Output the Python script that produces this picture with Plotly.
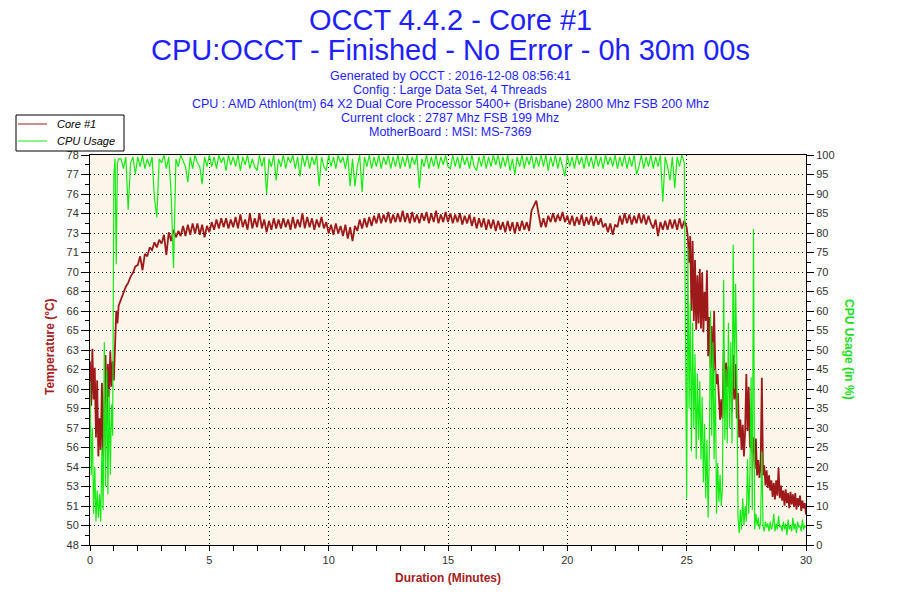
import numpy as np
import plotly.graph_objects as go

# ---------------- text ----------------
TITLE_1 = "OCCT 4.4.2 - Core #1"
TITLE_2 = "CPU:OCCT - Finished - No Error - 0h 30m 00s"
INFO_LINES = [
    "Generated by OCCT : 2016-12-08 08:56:41",
    "Config : Large Data Set, 4 Threads",
    "CPU : AMD Athlon(tm) 64 X2 Dual Core Processor 5400+ (Brisbane) 2800 Mhz FSB 200 Mhz",
    "Current clock : 2787 Mhz FSB 199 Mhz",
    "MotherBoard : MSI: MS-7369",
]
X_TITLE = "Duration (Minutes)"
Y_LEFT_TITLE = "Temperature (°C)"
Y_RIGHT_TITLE = "CPU Usage (in %)"
SERIES_NAMES = ["Core #1", "CPU Usage"]

# ---------------- axes ----------------
X_TICKS = [0, 5, 10, 15, 20, 25, 30]
TEMP_TICK_LABELS = ["48", "50", "51", "53", "54", "56", "57", "59", "60", "62", "63",
                    "65", "66", "68", "70", "71", "73", "74", "76", "77", "78"]
TEMP_AXIS_MIN = 48.5
TEMP_AXIS_STEP = 1.54
CPU_TICKS = list(range(0, 101, 5))

# ---------------- data ----------------
# segment A : 0.00 .. 1.20 min, every 0.05 min
temp_a = [63.0, 59.5, 64.0, 60.0, 62.5, 57.0, 61.5, 55.5, 58.5, 56.0,
          61.3, 55.5, 59.5, 63.5, 58.0, 62.8, 60.2, 63.8, 61.0, 63.0,
          61.5, 65.5, 67.0, 66.0, 67.4]
cpu_a = [42, 18, 30, 8, 20, 6, 14, 7, 13, 6,
         25, 9, 52, 15, 45, 13, 40, 18, 36, 28,
         95, 99, 72, 98, 99]

# segment B : 1.3 .. 24.9 min, every 0.1 min
temp_b = [67.9, 68.4, 68.9, 69.2, 69.7, 70.0, 70.5,
          70.6, 71.3, 70.2, 71.5, 71.3, 72.0, 71.8, 72.4, 72.0, 72.6,
          72.3, 73.0, 71.4, 73.2, 72.5, 73.4, 72.8, 73.3, 72.9, 73.7,
          72.9, 73.8, 73.0, 73.9, 73.1, 73.9, 73.0, 73.8, 72.8, 73.7,
          73.2, 74.0, 73.4, 74.2, 73.5, 74.3, 73.6, 74.3, 73.5, 74.2,
          73.6, 74.4, 73.5, 74.6, 73.6, 74.2, 73.4, 74.7, 73.5, 74.3,
          73.6, 74.7, 73.5, 74.2, 73.2, 74.1, 73.4, 74.3, 73.5, 74.2,
          73.5, 74.3, 73.6, 74.2, 73.4, 74.4, 73.5, 74.2, 73.6, 74.7,
          73.5, 74.4, 73.6, 74.3, 73.4, 74.2, 73.6, 74.4, 73.5, 74.0,
          73.1, 73.8, 73.0, 73.9, 73.1, 73.7, 72.9, 73.8, 72.7, 73.6,
          72.5, 73.7, 73.3, 74.2, 73.5, 74.3, 73.6, 74.4, 73.7, 74.5,
          73.9, 74.7, 73.9, 74.6, 74.0, 74.8, 73.9, 74.6, 74.0, 74.7,
          74.0, 74.9, 74.0, 74.7, 73.9, 74.8, 74.0, 74.6, 73.9, 74.7,
          74.1, 74.8, 73.9, 74.7, 74.0, 74.9, 73.9, 74.6, 74.0, 74.8,
          74.0, 74.7, 73.9, 74.6, 74.0, 74.7, 73.8, 74.5, 73.9, 74.6,
          73.7, 74.4, 73.5, 74.3, 73.6, 74.3, 73.4, 74.2, 73.5, 74.2,
          73.3, 74.1, 73.4, 74.0, 73.2, 74.1, 73.3, 74.0, 73.1, 74.0,
          73.3, 74.1, 73.4, 74.0, 73.3, 74.9, 75.3, 75.7, 74.6, 73.6,
          74.3, 73.6, 74.5, 74.0, 74.7, 74.0, 74.6, 74.1, 74.8, 74.0,
          74.5, 73.8, 74.5, 73.7, 74.4, 73.8, 74.6, 73.7, 74.4, 73.8,
          74.5, 73.7, 74.4, 73.8, 74.3, 73.6, 73.9, 73.2, 73.9, 73.0,
          73.8, 73.6, 74.5, 73.8, 74.7, 73.9, 74.6, 73.8, 74.5, 73.9,
          74.7, 73.9, 74.6, 73.8, 74.5, 73.9, 73.5, 74.2, 72.9, 74.0,
          73.4, 74.1, 73.4, 74.2, 73.5, 74.2, 73.4, 74.3, 73.5, 74.1]
cpu_b = [99, 96.5, 99.5, 86, 98, 99.5, 95,
         99.5, 97, 100, 96.5, 99, 97, 99.5, 89, 84, 99,
         98, 100, 96.5, 99.5, 90, 71, 99, 97, 100, 98.5,
         97, 93, 99.5, 96.5, 100, 98, 97, 92.5, 99.5, 97,
         100, 97, 99.5, 96.5, 100, 98, 99.5, 96, 100, 97.5,
         99.5, 97, 100, 96, 99.5, 97.5, 100, 96.5, 99, 97,
         96, 100, 97, 99.5, 90, 99, 97, 100, 93.5, 99,
         97, 100, 96.5, 99.5, 98, 100, 96.5, 99.5, 94.5, 100,
         97, 100, 96.5, 99.5, 97.5, 100, 92, 99.5, 97, 96,
         100, 97, 99.5, 96.5, 100, 98, 99.5, 96.5, 100, 92,
         99, 92, 97, 100, 90.5, 99.5, 97, 100, 96.5, 99.5,
         97, 100, 96.5, 99.5, 97.5, 100, 96.5, 99.5, 97, 100,
         96.5, 99.5, 97, 100, 96.5, 99.5, 97.5, 100, 91.5, 99,
         97, 100, 96.5, 99.5, 97, 100, 96.5, 99.5, 97.5, 100,
         97, 96.5, 100, 97, 99.5, 96.5, 100, 97.5, 99.5, 96.5,
         100, 97, 96, 99.5, 97, 100, 96.5, 99.5, 97, 100,
         97.5, 100, 96.5, 99.5, 97, 100, 96, 99, 95, 99.5,
         97, 100, 96.5, 99.5, 97.5, 100, 96.5, 99.5, 97, 100,
         97, 100, 96, 99.5, 97, 100, 96.5, 99.5, 97, 94.5,
         100, 97, 99.5, 96.5, 100, 97.5, 99.5, 96.5, 100, 97,
         99.5, 96.5, 100, 97, 99.5, 96.5, 100, 97.5, 99.5, 97,
         100, 96.5, 99.5, 97, 100, 96.5, 99.5, 97, 100, 95,
         97, 100, 96.5, 99.5, 97, 100, 96.5, 99.5, 97, 100,
         88, 99.5, 97, 93.5, 99.5, 91.5, 99.5, 97, 100, 98]

# segment C : 25.00 .. 30.00 min, every 0.05 min
temp_c = [73.6, 72.8, 70.8, 72.9, 67.0, 72.5, 66.2, 71.0, 65.5, 69.8,
          66.0, 70.3, 65.6, 70.0, 65.3, 68.5, 66.2, 70.2, 63.4, 66.5,
          62.5, 65.8, 61.2, 67.0, 62.4, 61.2, 62.0, 60.5, 58.4, 60.0,
          58.5, 63.8, 60.0, 62.9, 61.0, 62.6, 60.6, 62.0, 59.0, 63.5,
          60.0, 62.8, 58.5, 60.5, 57.0, 58.4, 56.0, 58.0, 55.5, 57.5,
          62.0, 57.5, 61.0, 56.2, 57.8, 55.8, 57.0, 54.5, 56.9, 54.0,
          55.2, 53.8, 54.9, 61.7, 54.0, 54.8, 53.2, 54.4, 53.0, 54.0,
          52.8, 53.6, 52.3, 53.4, 52.1, 53.6, 52.4, 54.6, 52.2, 53.2,
          52.0, 52.8, 51.6, 52.9, 51.8, 52.6, 51.4, 52.7, 51.7, 52.5,
          51.5, 52.6, 51.3, 52.2, 51.6, 52.4, 51.2, 52.0, 51.4, 51.8,
          50.9]
cpu_c = [12, 76, 35, 62, 24, 57, 30, 49, 22, 44,
         27, 42, 22, 38, 16, 31, 12, 27, 7, 24,
         60, 28, 52, 22, 45, 8, 21, 11, 18, 10,
         15, 68, 27, 45, 26, 57, 30, 52, 26, 77,
         40, 67, 48, 7, 3, 9, 4, 12, 5, 10,
         6, 22, 8, 18, 43, 9, 81, 4, 8, 5,
         7, 4, 6, 24, 5, 3.5, 6, 4.5, 5.5, 3.5,
         6, 4, 5, 8, 3.5, 5.5, 4, 7.5, 4.5, 5,
         3.5, 6, 4, 5.5, 2.5, 6.5, 4, 5, 3.5, 7,
         4, 5.5, 3, 6, 4.5, 5, 3.5, 6.5, 4, 5,
         4.5]

SEG_A = (0.0, 0.05)
SEG_B = (1.3, 0.1)
SEG_C = (25.0, 0.05)


def seg_times(seg, n):
    start, step = seg
    return np.round(start + step * np.arange(n), 3)


t_temp = np.concatenate([seg_times(SEG_A, len(temp_a)), seg_times(SEG_B, len(temp_b)),
                         seg_times(SEG_C, len(temp_c))])
v_temp = np.array(temp_a + temp_b + temp_c)
t_cpu = np.concatenate([seg_times(SEG_A, len(cpu_a)), seg_times(SEG_B, len(cpu_b)),
                        seg_times(SEG_C, len(cpu_c))])
v_cpu = np.array(cpu_a + cpu_b + cpu_c)

# ---------------- style ----------------
RED = "#9E1A1A"
GREEN = "#12EC12"
BLUE = "#1E1EFF"
PLOT_BG = "#FCF6EA"
FONT = "Liberation Sans, Arial, sans-serif"
TICK_FONT = dict(family=FONT, size=11, color="#333333")
W, H = 900, 600
ML, MR, MT, MB = 90, 94, 155, 55
PW, PH = W - ML - MR, H - MT - MB


def px(x):
    return (x - ML) / PW


def py(y):
    return (H - MB - y) / PH


temp_hi = TEMP_AXIS_MIN + TEMP_AXIS_STEP * (len(TEMP_TICK_LABELS) - 1)
temp_tickvals = list(np.linspace(TEMP_AXIS_MIN, temp_hi, len(TEMP_TICK_LABELS)))

fig = go.Figure()
fig.add_trace(go.Scatter(x=t_temp, y=v_temp, mode="lines", name=SERIES_NAMES[0],
                         line=dict(color=RED, width=1.8), yaxis="y"))
fig.add_trace(go.Scatter(x=t_cpu, y=v_cpu, mode="lines", name=SERIES_NAMES[1],
                         line=dict(color=GREEN, width=1.2), yaxis="y2"))

grid = dict(showgrid=True, gridcolor="black", gridwidth=1, griddash="1px,3px")

fig.update_layout(
    width=W, height=H,
    margin=dict(l=ML, r=MR, t=MT, b=MB, autoexpand=False),
    paper_bgcolor="white", plot_bgcolor=PLOT_BG,
    showlegend=False,
    xaxis=dict(range=[0, 30], tickmode="array", tickvals=X_TICKS,
               ticks="outside", ticklen=5, tickcolor="black",
               minor=dict(dtick=1, ticks="outside", ticklen=5, tickcolor="black", showgrid=False),
               showline=True, linecolor="black", linewidth=1, mirror=True,
               zeroline=False, tickfont=TICK_FONT, **grid),
    yaxis=dict(range=[TEMP_AXIS_MIN, temp_hi], tickmode="array",
               tickvals=temp_tickvals, ticktext=TEMP_TICK_LABELS,
               ticks="outside", ticklen=8, tickcolor="black",
               minor=dict(tick0=TEMP_AXIS_MIN + TEMP_AXIS_STEP / 2, dtick=TEMP_AXIS_STEP,
                          ticks="outside", ticklen=4, tickcolor="black", showgrid=False),
               showline=True, linecolor="black", linewidth=1, mirror=True,
               zeroline=False, tickfont=TICK_FONT, **grid),
    yaxis2=dict(range=[0, 100], overlaying="y", side="right", tickmode="array",
                tickvals=CPU_TICKS, ticks="outside", ticklen=7, tickcolor="black",
                minor=dict(tick0=2.5, dtick=5, ticks="outside", ticklen=4,
                           tickcolor="black", showgrid=False),
                showline=True, linecolor="black", linewidth=1, showgrid=False,
                zeroline=False, tickfont=TICK_FONT),
)

# legend box drawn by hand (matches the small framed legend at top-left)
LEG_X0, LEG_X1, LEG_Y0, LEG_Y1 = 16, 124, 115, 151
LEG_ROWS = [124, 141]
LEG_COLORS = [RED, GREEN]
shapes = [dict(type="rect", xref="paper", yref="paper", x0=px(LEG_X0), x1=px(LEG_X1),
               y0=py(LEG_Y1), y1=py(LEG_Y0), line=dict(color="black", width=1),
               fillcolor="white", layer="above")]
for row, col in zip(LEG_ROWS, LEG_COLORS):
    shapes.append(dict(type="line", xref="paper", yref="paper", x0=px(18), x1=px(47),
                       y0=py(row), y1=py(row), line=dict(color=col, width=1), layer="above"))

annotations = [
    dict(text=TITLE_1, x=px(450), xref="paper", y=py(20), yref="paper", xanchor="center",
         yanchor="middle", showarrow=False, font=dict(family=FONT, size=29, color=BLUE)),
    dict(text=TITLE_2, x=px(450), xref="paper", y=py(50), yref="paper", xanchor="center",
         yanchor="middle", showarrow=False, font=dict(family=FONT, size=29, color=BLUE)),
]
for i, line in enumerate(INFO_LINES):
    annotations.append(dict(text=line, x=px(450), xref="paper", y=py(76 + i * 14),
                            yref="paper", xanchor="center", yanchor="middle", showarrow=False,
                            font=dict(family=FONT, size=12.5, color=BLUE)))
for row, name in zip(LEG_ROWS, SERIES_NAMES):
    annotations.append(dict(text="<i>" + name + "</i>", x=px(55), xref="paper", y=py(row),
                            yref="paper", xanchor="left", yanchor="middle", showarrow=False,
                            font=dict(family=FONT, size=11, color="black")))
annotations += [
    dict(text="<b>" + X_TITLE + "</b>", x=px(448), xref="paper", y=py(578), yref="paper",
         xanchor="center", yanchor="middle", showarrow=False,
         font=dict(family=FONT, size=12, color="#A52020")),
    dict(text="<b>" + Y_LEFT_TITLE + "</b>", x=px(50), xref="paper", y=py(347), yref="paper",
         xanchor="center", yanchor="middle", showarrow=False, textangle=-90,
         font=dict(family=FONT, size=12, color="#A52020")),
    dict(text="<b>" + Y_RIGHT_TITLE + "</b>", x=px(849), xref="paper", y=py(349), yref="paper",
         xanchor="center", yanchor="middle", showarrow=False, textangle=90,
         font=dict(family=FONT, size=12, color="#22DD22")),
]
fig.update_layout(annotations=annotations, shapes=shapes)

fig.write_html("out.html", config={"displayModeBar": False},
               post_script="document.body.style.margin='0px';document.body.style.padding='0px';")
